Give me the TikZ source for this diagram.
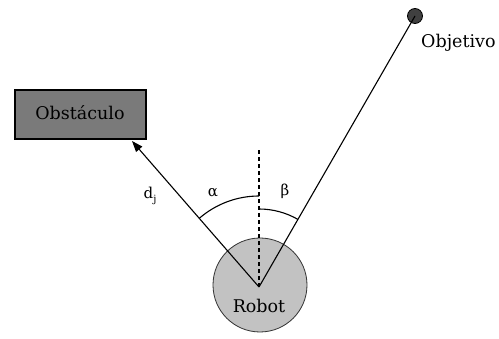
\documentclass[tikz,border=0pt]{standalone}
\usepackage{fontspec}
\setmainfont{DejaVu Serif}
\usetikzlibrary{arrows.meta}
\tikzset{
  line/.style={line width=1.1pt, black},
  lbl/.style={font=\fontsize{17.5}{20}\selectfont, inner sep=0pt},
  glbl/.style={font=\fontsize{15}{17}\selectfont, inner sep=0pt},
  obstbox/.style={draw=black, line width=1.1pt, fill=black!52, minimum width=131pt, minimum height=49pt, inner sep=0pt},
  robotdisc/.style={draw=black!80, line width=0.8pt, fill=black!24, circle, minimum size=94pt, inner sep=0pt},
  goaldot/.style={draw=black, line width=0.8pt, fill=black!75, circle, minimum size=15pt, inner sep=0pt},
}
\begin{document}
\begin{tikzpicture}[x=1pt, y=-1pt]
  \useasboundingbox (0,0) rectangle (499,339);

  % bodies
  \node[robotdisc] (robot) at (260,285) {};
  \node[obstbox] (obst) at (80.5,114.5) {};
  \node[lbl] (obsttxt) at (80,113) {Obstáculo};
  \node[goaldot] (goal) at (415,16) {};
  \node[lbl, anchor=west] (goaltxt) at (421,43) {Objetivo};
  \node[lbl] (robottxt) at (259,306) {Robot};

  % reference points
  \coordinate (V) at (259,287);
  \coordinate (tip) at (132,141);
  \coordinate (up) at (259,150);

  % vertical reference line
  \draw[line, dashed, dash pattern=on 4pt off 3pt] (V) -- (up);

  % direction to the obstacle and to the goal
  \draw[line, -{Triangle[length=11pt, width=8pt]}] (V) -- (tip);
  \draw[line] (V) -- (goal.center);

  % angles (y axis points down, so angles are mirrored)
  \draw[line] ([shift={(0,-91)}]V) arc[start angle=-90, end angle=-131, radius=91];
  \draw[line] ([shift={(0,-78)}]V) arc[start angle=-90, end angle=-60, radius=78];

  % labels
  \node[glbl] (alpha) at (213,193) {α};
  \node[glbl] (beta) at (285,191) {β};
  \node[glbl] (dj) at (150,196) {d\raisebox{-0.45ex}{\fontsize{10}{12}\selectfont j}};
\end{tikzpicture}
\end{document}
